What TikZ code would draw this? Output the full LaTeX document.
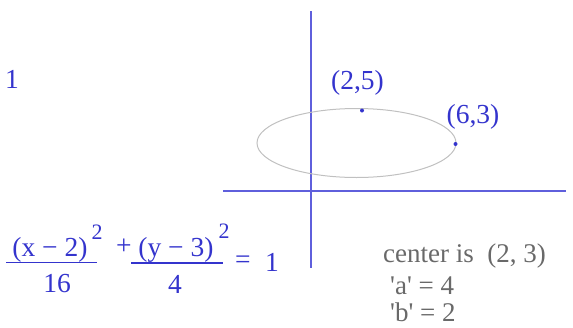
\documentclass[tikz,border=0pt]{standalone}
\usepackage{fontspec}
\setmainfont{Liberation Serif}
\usepackage{tikz}
\usetikzlibrary{positioning,calc}

\definecolor{eqblue}{RGB}{52,52,205}
\definecolor{axisblue}{RGB}{95,95,220}
\definecolor{curvegray}{RGB}{192,192,192}
\definecolor{notegray}{RGB}{105,105,105}

\tikzset{
  eqtext/.style={text=eqblue, inner sep=0pt, font=\fontsize{27.5}{32}\selectfont},
  suptext/.style={text=eqblue, inner sep=0pt, font=\fontsize{22}{26}\selectfont},
  notetext/.style={text=notegray, inner sep=0pt, anchor=base west, font=\fontsize{27}{32}\selectfont}
}

\begin{document}
\begin{tikzpicture}[x=1pt,y=-1pt]

\useasboundingbox (0,0) rectangle (573,327);

% axes
\coordinate (ytop) at (311,11);
\coordinate (ybot) at (311,268);
\coordinate (xleft) at (223,191);
\coordinate (xright) at (566,191);
\draw[axisblue, line width=1.4pt] (ytop) -- (ybot);
\draw[axisblue, line width=1.4pt] (xleft) -- (xright);

% ellipse
\draw[curvegray, line width=1pt] (356.5,143) ellipse (99.5 and 34.5);

\coordinate (top) at (362,110.5);
\coordinate (vert) at (455.5,144);
\fill[eqblue] (top) circle (2);
\fill[eqblue] (vert) circle (2);
\node[eqtext] (toplabel) at (357.5,82.5) {(2,5)};
\node[eqtext] (vertlabel) at (473,116.5) {(6,3)};

\node[eqtext] (one) at (12,79.5) {1};

% equation
\node[eqtext] (num1) at (50,249.5) {(x − 2)};
\node[suptext] (sup1) at (97,232) {2};
\node[eqtext] (den1) at (57,283.5) {16};
\draw[eqblue, line width=1.2pt] (6,262.5) -- (97,262.5);
\node[eqtext] (plus) at (124,247) {+};
\node[eqtext] (num2) at (176,250) {(y − 3)};
\node[suptext] (sup2) at (224,231) {2};
\node[eqtext] (den2) at (175,284) {4};
\draw[eqblue, line width=1.2pt] (131,263) -- (223,263);
\node[eqtext] (eq) at (243,262.5) {=};
\node[eqtext] (rhs) at (272,262) {1};

% notes
\node[notetext] (center) at (383,262) {center is\ \ (2, 3)};
\node[notetext] (avalue) at (390,294) {\textquotesingle a\textquotesingle\ = 4};
\node[notetext] (bvalue) at (390,321) {\textquotesingle b\textquotesingle\ = 2};

\end{tikzpicture}
\end{document}
